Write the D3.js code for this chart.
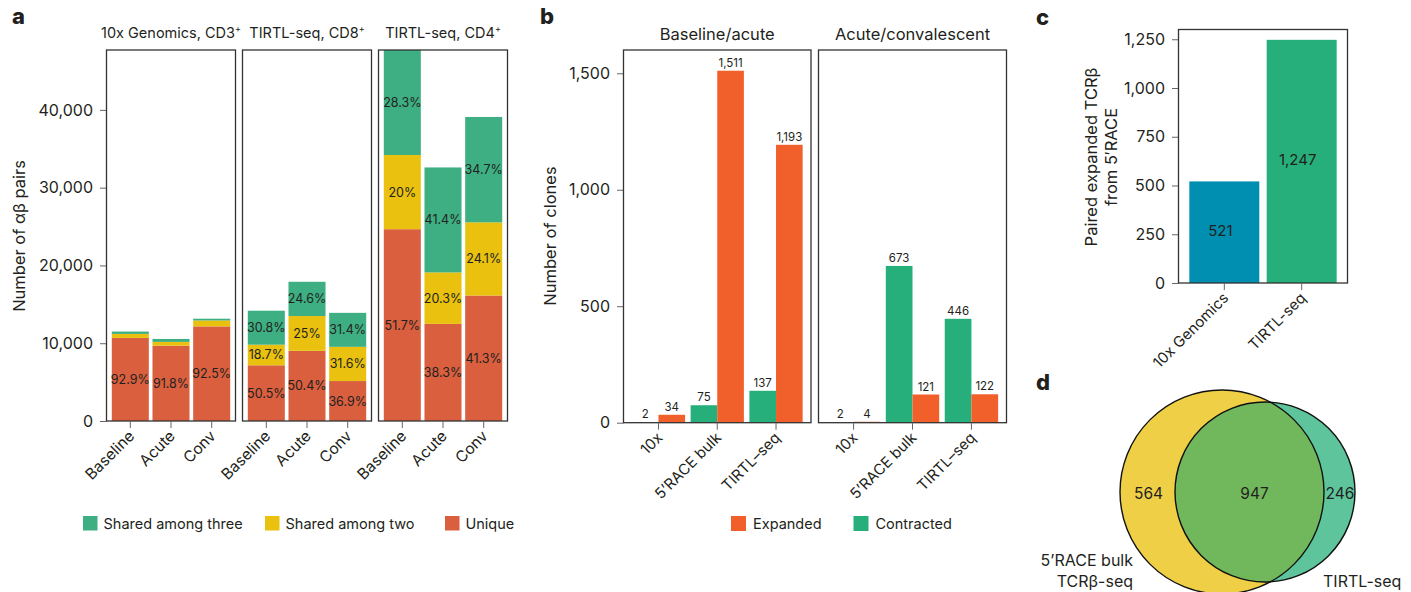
<!DOCTYPE html>
<html><head><meta charset="utf-8">
<script src="https://cdn.jsdelivr.net/npm/d3@7"></script>
<style>
body{margin:0;background:#fff;}
svg text{font-family:Inter,"Noto Sans",sans-serif;fill:#231f20;}
</style></head>
<body><svg id="chart" width="1411" height="592"></svg>
<script>
// ---------- Panel a data ----------
const aFacets = ["10x Genomics, CD3", "TIRTL-seq, CD8", "TIRTL-seq, CD4"];
const aTimepoints = ["Baseline", "Acute", "Conv"];
const aTotals = [[11500, 10550, 13150], [14180, 17900, 13920], [47700, 32600, 39050]];
const aUniquePct = [[92.9, 91.8, 92.5], [50.5, 50.4, 36.9], [51.7, 38.3, 41.3]];
const aTwoPct = [[4.5, 4.6, 5.8], [18.7, 25, 31.6], [20, 20.3, 24.1]];
const aThreePct = [[2.6, 3.6, 1.7], [30.8, 24.6, 31.4], [28.3, 41.4, 34.7]];
const aSeries = ["Unique", "Shared among two", "Shared among three"];
const aYTicks = [0, 10000, 20000, 30000, 40000];

// ---------- Panel b data ----------
const bFacets = ["Baseline/acute", "Acute/convalescent"];
const bMethods = ["10x", "5\u2019RACE bulk", "TIRTL\u2013seq"];
const bContracted = [[2, 75, 137], [2, 673, 446]];
const bExpanded = [[34, 1511, 1193], [4, 121, 122]];
const bYTicks = [0, 500, 1000, 1500];

// ---------- Panel c data ----------
const cMethods = ["10x Genomics", "TIRTL-seq"];
const cValues = [521, 1247];
const cYTicks = [0, 250, 500, 750, 1000, 1250];

// ---------- Panel d data ----------
const dSets = ["5\u2019RACE bulk TCR\u03b2-seq", "TIRTL-seq"];
const dOnlyA = 564, dBoth = 947, dOnlyB = 246;

const svg = d3.select("#chart");
const fmt = d3.format(",");
const ink = "#231f20", frame = "#333", tickCol = "#666";

function panelLetter(t, x, y) {
  svg.append("text").attr("x", x).attr("y", y).attr("font-size", 22).attr("font-weight", 800).text(t);
}
function yAxis(scale, x, ticks) {
  const g = svg.append("g").attr("transform", `translate(${x},0)`)
    .call(d3.axisLeft(scale).tickValues(ticks).tickFormat(fmt).tickSize(6.5).tickPadding(7));
  g.select(".domain").remove();
  g.selectAll(".tick line").attr("stroke", tickCol);
  g.selectAll(".tick text").attr("font-size", 16).attr("fill", ink).style("font-family", "Inter");
  return g;
}
function xAxisRot(scale, y, fontSize, dx, dy) {
  const g = svg.append("g").attr("transform", `translate(0,${y})`)
    .call(d3.axisBottom(scale).tickSize(7).tickPadding(0));
  g.select(".domain").remove();
  g.selectAll(".tick line").attr("stroke", tickCol);
  g.selectAll(".tick text").attr("font-size", fontSize).attr("fill", ink)
    .style("font-family", "Inter")
    .attr("text-anchor", "end").attr("dy", 0).attr("y", 0)
    .attr("transform", `translate(${dx},${dy}) rotate(-45)`);
  return g;
}
function box(x0, x1, y0, y1) {
  svg.append("rect").attr("x", x0).attr("y", y0).attr("width", x1 - x0).attr("height", y1 - y0)
    .attr("fill", "none").attr("stroke", frame).attr("stroke-width", 1.3);
}

// ================= Panel a =================
panelLetter("a", 12, 24);
const aColors = { "Unique": "#d95f3f", "Shared among two": "#e9c10e", "Shared among three": "#3daf82" };
const aY = d3.scaleLinear().domain([0, 47700]).range([421, 50]);
const aRanges = [[106.5, 235.5], [242.5, 371.5], [378.5, 507.5]];
yAxis(aY, 106.5, aYTicks);
svg.append("text").attr("transform", "translate(25,236) rotate(-90)").attr("text-anchor", "middle")
  .attr("font-size", 16.5).text("Number of \u03b1\u03b2 pairs");

aFacets.forEach((f, fi) => {
  const x = d3.scaleBand().domain(aTimepoints).range(aRanges[fi]).paddingInner(0.09).paddingOuter(0.13);
  const rows = aTimepoints.map((t, ti) => ({
    t,
    "Unique": aTotals[fi][ti] * aUniquePct[fi][ti] / 100,
    "Shared among two": aTotals[fi][ti] * aTwoPct[fi][ti] / 100,
    "Shared among three": aTotals[fi][ti] * aThreePct[fi][ti] / 100,
    pct: { "Unique": aUniquePct[fi][ti], "Shared among two": aTwoPct[fi][ti], "Shared among three": aThreePct[fi][ti] }
  }));
  const stack = d3.stack().keys(aSeries)(rows);
  stack.forEach(s => {
    const g = svg.append("g");
    g.selectAll("rect").data(s).join("rect")
      .attr("x", d => x(d.data.t)).attr("width", x.bandwidth())
      .attr("y", d => aY(d[1])).attr("height", d => aY(d[0]) - aY(d[1]))
      .attr("fill", aColors[s.key]);
    g.selectAll("text").data(s.filter(d => aY(d[0]) - aY(d[1]) > 16)).join("text")
      .attr("x", d => x(d.data.t) + x.bandwidth() / 2)
      .attr("y", d => (aY(d[0]) + aY(d[1])) / 2).attr("dy", "0.36em")
      .attr("text-anchor", "middle").attr("font-size", 12.5)
      .text(d => d.data.pct[s.key] + "%");
  });
  box(aRanges[fi][0], aRanges[fi][1], 50, 421);
  xAxisRot(x, 421, 15.5, 5, 16);
  const tt = svg.append("text").attr("x", (aRanges[fi][0] + aRanges[fi][1]) / 2).attr("y", 38)
    .attr("text-anchor", "middle").attr("font-size", 14.5);
  tt.append("tspan").text(f);
  tt.append("tspan").attr("dy", -6).attr("font-size", 9).text("+");
});
// legend a
const aLegend = [["Shared among three", 83], ["Shared among two", 265], ["Unique", 445]];
aLegend.forEach(([k, lx]) => {
  svg.append("rect").attr("x", lx).attr("y", 516).attr("width", 14.5).attr("height", 14.5).attr("fill", aColors[k]);
  svg.append("text").attr("x", lx + 20.5).attr("y", 523.5).attr("dy", "0.36em").attr("font-size", 14.5).text(k);
});

// ================= Panel b =================
panelLetter("b", 540, 24);
const bColors = { "Contracted": "#26af7a", "Expanded": "#f15f2a" };
const bY = d3.scaleLinear().domain([0, 1600]).range([422.7, 50]);
const bRanges = [[623.5, 811], [818.5, 1006.5]];
yAxis(bY, 623.5, bYTicks);
svg.append("text").attr("transform", "translate(556,236) rotate(-90)").attr("text-anchor", "middle")
  .attr("font-size", 16.5).text("Number of clones");
bFacets.forEach((f, fi) => {
  const x = d3.scaleBand().domain(bMethods).range(bRanges[fi]).paddingInner(0.094).paddingOuter(0.142);
  const xs = d3.scaleBand().domain(["Contracted", "Expanded"]).range([0, x.bandwidth()]);
  const rows = [];
  bMethods.forEach((m, mi) => {
    rows.push({ m, k: "Contracted", v: bContracted[fi][mi] });
    rows.push({ m, k: "Expanded", v: bExpanded[fi][mi] });
  });
  svg.append("g").selectAll("rect").data(rows).join("rect")
    .attr("x", d => x(d.m) + xs(d.k)).attr("width", xs.bandwidth())
    .attr("y", d => bY(d.v)).attr("height", d => bY(0) - bY(d.v)).attr("fill", d => bColors[d.k]);
  svg.append("g").selectAll("text").data(rows).join("text")
    .attr("x", d => x(d.m) + xs(d.k) + xs.bandwidth() / 2).attr("y", d => bY(d.v) - 4)
    .attr("text-anchor", "middle").attr("font-size", 11.5).text(d => fmt(d.v));
  box(bRanges[fi][0], bRanges[fi][1], 50, 422.7);
  xAxisRot(x, 422.7, 15, 5, 16);
  svg.append("text").attr("x", (bRanges[fi][0] + bRanges[fi][1]) / 2).attr("y", 40)
    .attr("text-anchor", "middle").attr("font-size", 16.5).text(f);
});
const bLegend = [["Expanded", 731], ["Contracted", 853.5]];
bLegend.forEach(([k, lx]) => {
  svg.append("rect").attr("x", lx).attr("y", 516).attr("width", 15).attr("height", 15).attr("fill", bColors[k]);
  svg.append("text").attr("x", lx + 22).attr("y", 523.5).attr("dy", "0.36em").attr("font-size", 14.5).text(k);
});

// ================= Panel c =================
panelLetter("c", 1036, 25);
const cColors = ["#008fb1", "#26af7a"];
const cY = d3.scaleLinear().domain([0, 1300]).range([283, 29.5]);
const cX = d3.scaleBand().domain(cMethods).range([1178.5, 1347.5]).paddingInner(0.0956).paddingOuter(0.14);
yAxis(cY, 1178.5, cYTicks);
svg.append("g").selectAll("rect").data(cMethods).join("rect")
  .attr("x", d => cX(d)).attr("width", cX.bandwidth())
  .attr("y", (d, i) => cY(cValues[i])).attr("height", (d, i) => cY(0) - cY(cValues[i]))
  .attr("fill", (d, i) => cColors[i]);
svg.append("g").selectAll("text").data(cMethods).join("text")
  .attr("x", d => cX(d) + cX.bandwidth() / 2 - 4)
  .attr("y", (d, i) => (cY(0) + cY(cValues[i])) / 2 - 2).attr("dy", "0.36em")
  .attr("text-anchor", "middle").attr("font-size", 15).text((d, i) => fmt(cValues[i]));
box(1178.5, 1347.5, 29.5, 283);
xAxisRot(cX, 283, 15, 5, 16);
const cTitle = svg.append("text").attr("transform", "translate(1097,157) rotate(-90)")
  .attr("text-anchor", "middle").attr("font-size", 16.5);
cTitle.append("tspan").attr("x", 0).attr("dy", 0).text("Paired expanded TCR\u03b2");
cTitle.append("tspan").attr("x", 0).attr("dy", 20).text("from 5\u2032RACE");

// ================= Panel d =================
panelLetter("d", 1036, 390);
const circA = { cx: 1222, cy: 492, r: 102 }, circB = { cx: 1265, cy: 492, r: 90 };
svg.append("circle").attr("cx", circA.cx).attr("cy", circA.cy).attr("r", circA.r).attr("fill", "#efcf46");
svg.append("circle").attr("cx", circB.cx).attr("cy", circB.cy).attr("r", circB.r).attr("fill", "#5dc49c");
svg.append("clipPath").attr("id", "clipA").append("circle")
  .attr("cx", circA.cx).attr("cy", circA.cy).attr("r", circA.r);
svg.append("circle").attr("cx", circB.cx).attr("cy", circB.cy).attr("r", circB.r)
  .attr("fill", "#71b85d").attr("clip-path", "url(#clipA)");
[circA, circB].forEach(c => svg.append("circle").attr("cx", c.cx).attr("cy", c.cy).attr("r", c.r)
  .attr("fill", "none").attr("stroke", "#111").attr("stroke-width", 1.4));
const vt = [[dOnlyA, 1148.5], [dBoth, 1254.5], [dOnlyB, 1340]];
vt.forEach(([v, x]) => svg.append("text").attr("x", x).attr("y", 493).attr("dy", "0.36em")
  .attr("text-anchor", "middle").attr("font-size", 15.5).text(fmt(v)));
const dA = svg.append("text").attr("text-anchor", "end").attr("font-size", 16);
dA.append("tspan").attr("x", 1133).attr("y", 566).text("5\u2019RACE bulk");
dA.append("tspan").attr("x", 1133).attr("y", 587).text("TCR\u03b2-seq");
svg.append("text").attr("x", 1323).attr("y", 587).attr("font-size", 16).text(dSets[1]);
</script></body></html>
